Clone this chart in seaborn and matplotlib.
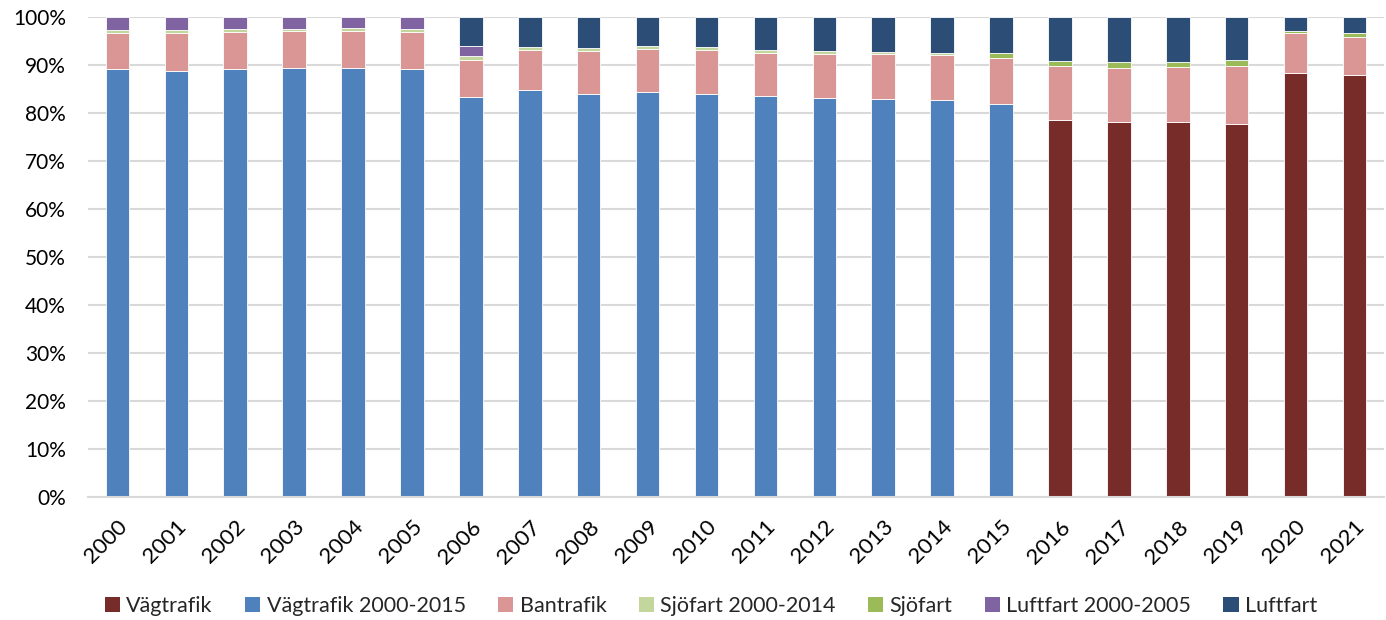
import matplotlib
matplotlib.use("Agg")
import matplotlib.pyplot as plt
from matplotlib.patches import Patch
from matplotlib.ticker import PercentFormatter
import numpy as np
import pandas as pd
import seaborn as sns

# Data (share of total, %)
years = [str(y) for y in range(2000, 2022)]
vagtrafik = [0] * 16 + [78.5, 78.1, 78.1, 77.8, 88.4, 87.9]
vagtrafik_old = [89.1, 88.8, 89.1, 89.3, 89.4, 89.2, 83.4, 84.9, 84.0, 84.4,
                 84.0, 83.6, 83.1, 82.9, 82.7, 81.9] + [0] * 6
bantrafik = [7.65, 7.95, 7.8, 7.8, 7.7, 7.7, 7.7, 8.3, 8.9, 8.9, 9.1,
             9.0, 9.3, 9.4, 9.4, 9.6, 11.3, 11.2, 11.4, 12.0, 8.2, 8.0]
sjofart_old = [0.55, 0.55, 0.6, 0.5, 0.6, 0.7, 0.8, 0.55, 0.6, 0.7, 0.6,
               0.6, 0.6, 0.5, 0.5] + [0] * 7
sjofart = [0] * 15 + [1.0, 1.1, 1.3, 1.2, 1.2, 0.5, 0.8]
luftfart_old = [2.7, 2.7, 2.5, 2.4, 2.3, 2.4, 2.1] + [0] * 15
luftfart = [0] * 6 + [6.0, 6.25, 6.5, 6.0, 6.3, 6.8, 7.0, 7.2, 7.4, 7.5,
                      9.1, 9.4, 9.3, 9.0, 2.9, 3.3]

series = [
    ("Vägtrafik", vagtrafik, "#772C2A"),
    ("Vägtrafik 2000-2015", vagtrafik_old, "#4F81BD"),
    ("Bantrafik", bantrafik, "#D99694"),
    ("Sjöfart 2000-2014", sjofart_old, "#C3D69B"),
    ("Sjöfart", sjofart, "#9BBB59"),
    ("Luftfart 2000-2005", luftfart_old, "#8064A2"),
    ("Luftfart", luftfart, "#2C4D75"),
]

sns.set_style("white")
plt.rcParams['font.family'] = ['Lato', 'DejaVu Sans']

fig = plt.figure(figsize=(13.86, 6.2), dpi=100)
ax = fig.add_axes([0.0635, 0.198, 0.935, 0.7745])

bottom = np.zeros(len(years))
handles = []
for name, vals, color in series:
    vals = np.array(vals, dtype=float)
    mask = vals > 0
    df = pd.DataFrame({"year": np.array(years)[mask], "value": vals[mask]})
    sns.barplot(data=df, x="year", y="value", order=years, color=color,
                width=0.4, bottom=bottom[mask], errorbar=None,
                edgecolor="#FFFFFF", linewidth=0.6, saturation=1, ax=ax)
    bottom += vals
    handles.append(Patch(facecolor=color, edgecolor="none", label=name))

ax.set_ylim(0, 100)
ax.set_xlim(-0.5, len(years) - 0.5)
ax.set_yticks(np.arange(0, 101, 10))
ax.yaxis.set_major_formatter(PercentFormatter(decimals=0))
ax.yaxis.grid(True, color="#D9D9D9", linewidth=1.5)
ax.set_axisbelow(True)
for s in ["top", "right", "left"]:
    ax.spines[s].set_visible(False)
ax.spines["bottom"].set_color("#D9D9D9")
ax.spines["bottom"].set_linewidth(1.5)
ax.set_xlabel("")
ax.set_ylabel("")
ax.tick_params(axis="both", length=0, labelsize=15, colors="black")
ax.tick_params(axis="y", pad=16)
ax.tick_params(axis="x", pad=14, labelsize=16)
plt.setp(ax.get_xticklabels(), rotation=45, ha="right", rotation_mode="anchor")

fig.legend(handles=handles, loc="center", bbox_to_anchor=(0.513, 0.023),
           ncol=7, frameon=False, fontsize=15.5, handlelength=0.7,
           handleheight=0.7, handletextpad=0.3, columnspacing=1.5)

fig.savefig("out.png", dpi=100)
